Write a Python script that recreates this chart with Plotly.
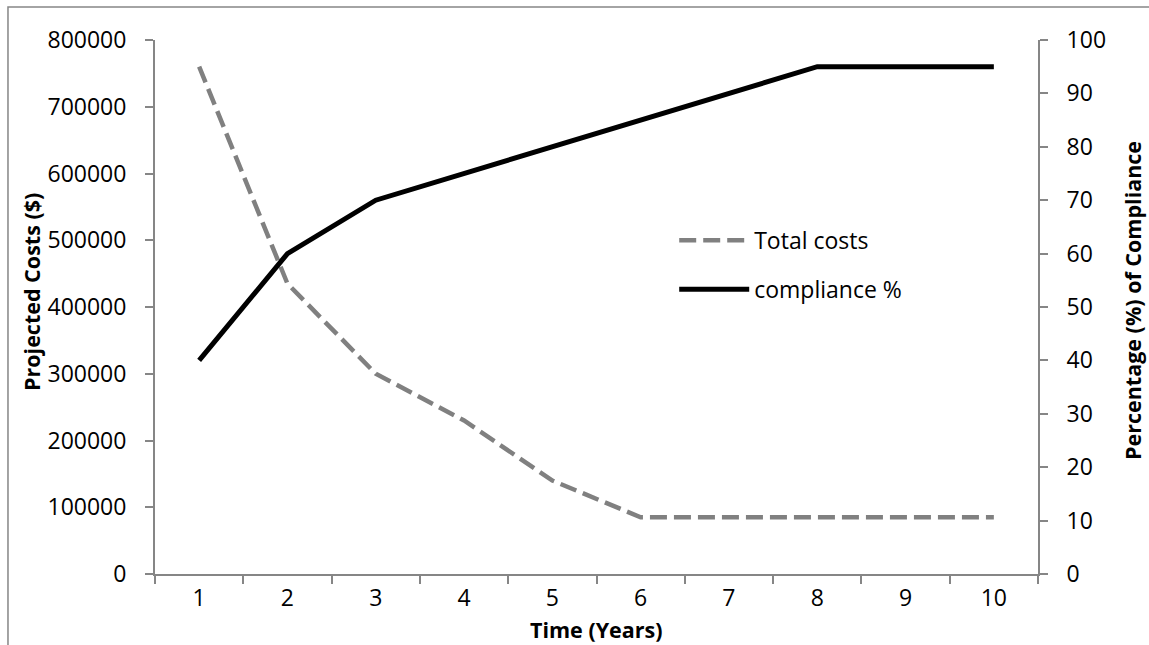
import plotly.graph_objects as go

years = ["1", "2", "3", "4", "5", "6", "7", "8", "9", "10"]
total_costs = [760000, 435000, 300000, 230000, 140000, 85000, 85000, 85000, 85000, 85000]
compliance = [40, 60, 70, 75, 80, 85, 90, 95, 95, 95]

FONT = "Open Sans"
AX = "#868686"
TICK = 23
TITLE = 21.5

fig = go.Figure()
fig.add_trace(go.Scatter(x=years, y=total_costs, mode="lines", name="Total costs", legendgroup="a",
                         line=dict(color="#808080", width=4.5, dash="17px,7px"), yaxis="y"))
fig.add_trace(go.Scatter(x=years, y=compliance, mode="lines", name="compliance %", legendgroup="b",
                         line=dict(color="#000000", width=5), yaxis="y2"))

fig.update_layout(
    width=1149, height=645,
    margin=dict(l=155, r=111, t=40, b=71, autoexpand=False),
    paper_bgcolor="white", plot_bgcolor="white",
    font=dict(family=FONT, size=TICK, color="#000000"),
    showlegend=True,
    legend=dict(x=0.588, y=0.665, xanchor="left", yanchor="top", bgcolor="rgba(0,0,0,0)",
                font=dict(family=FONT, size=TICK), itemwidth=70, tracegroupgap=16),
    xaxis=dict(type="category", tickson="boundaries", range=[-0.5, 9.5], showline=True,
               linecolor=AX, linewidth=2, automargin=False,
               ticks="outside", ticklen=8, tickcolor=AX, tickwidth=2, showgrid=False,
               ticklabelstandoff=2, tickfont=dict(family=FONT, size=TICK), zeroline=False),
    yaxis=dict(range=[0, 800000], dtick=100000, showline=True, linecolor=AX, linewidth=2,
               ticks="outside", ticklen=8, tickcolor=AX, tickwidth=2, showgrid=False,
               zeroline=False, tickformat="d", automargin=False, ticklabelstandoff=14,
               tickfont=dict(family=FONT, size=TICK)),
    yaxis2=dict(range=[0, 100], dtick=10, overlaying="y", side="right", showline=True,
                linecolor=AX, linewidth=2, ticks="outside", ticklen=8, tickcolor=AX, tickwidth=2,
                showgrid=False, zeroline=False, automargin=False, ticklabelstandoff=14,
                tickfont=dict(family=FONT, size=TICK)),
    annotations=[
        dict(text="<b>Time (Years)</b>", xref="paper", yref="paper", x=(596 - 155) / 883,
             y=(574 - 645) / 534, xanchor="center", yanchor="bottom", showarrow=False,
             borderpad=0, font=dict(family=FONT, size=TITLE)),
        dict(text="<b>Projected Costs ($)</b>", xref="paper", yref="paper", x=(31 - 155) / 883,
             y=(574 - 292) / 534, xanchor="center", yanchor="middle", showarrow=False, textangle=-90,
             font=dict(family=FONT, size=TITLE)),
        dict(text="<b>Percentage (%) of Compliance</b>", xref="paper", yref="paper",
             x=(1132 - 155) / 883, y=(574 - 301) / 534, xanchor="center", yanchor="middle",
             showarrow=False, textangle=-90, font=dict(family=FONT, size=TITLE)),
    ],
    shapes=[dict(type="rect", xref="paper", yref="paper", x0=-0.1665, x1=1.2, y0=-0.3, y1=1.0618,
                 line=dict(color=AX, width=1.5), fillcolor="rgba(0,0,0,0)", layer="below")],
)

fig.write_html("out.html", config={"displayModeBar": False},
               post_script="document.body.style.margin='0';document.body.style.overflow='hidden';")
